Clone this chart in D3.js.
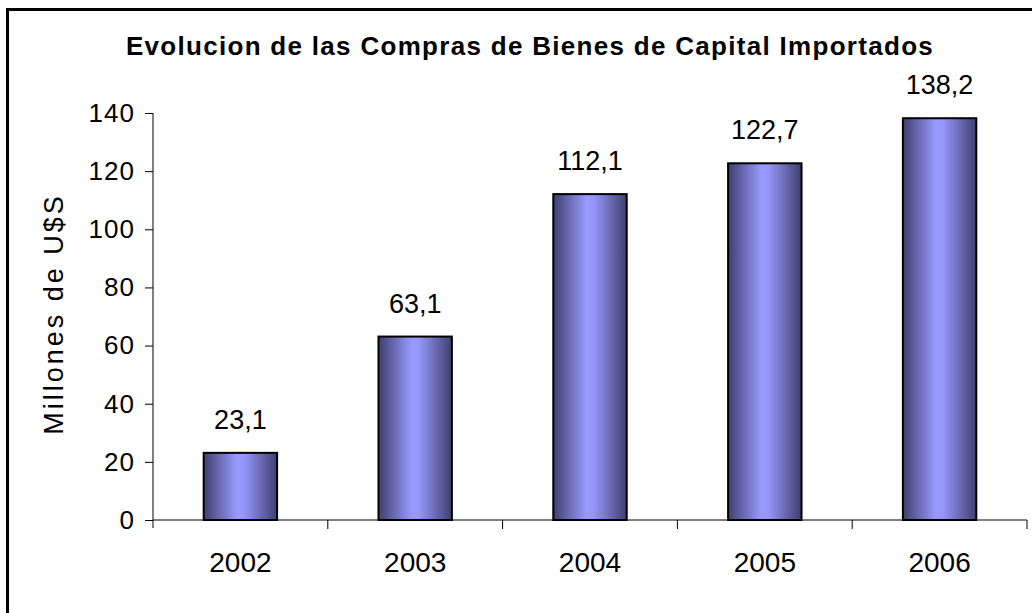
<!DOCTYPE html>
<html>
<head>
<meta charset="utf-8">
<script src="https://cdn.jsdelivr.net/npm/d3@7"></script>
<style>
    body { margin: 0; background: #fff; }
    svg text { font-family: Arial, "Liberation Sans", sans-serif; fill: #000; }
</style>
</head>
<body>
<div id="chart"></div>
<script>
// data
const years = ["2002", "2003", "2004", "2005", "2006"];
const values = [23.1, 63.1, 112.1, 122.7, 138.2];
const valueLabels = ["23,1", "63,1", "112,1", "122,7", "138,2"];
const yTicks = [0, 20, 40, 60, 80, 100, 120, 140];

window.onload = function () {
    drawChart();
};

function drawChart() {
    let width = 1032,
        height = 613;

    let svg = d3.select("#chart")
        .append("svg")
        .attr("width", width)
        .attr("height", height);

    // gradient for the bars (dark edges, light middle)
    let grad = svg.append("defs")
        .append("linearGradient")
        .attr("id", "barGrad")
        .attr("x1", "0%").attr("x2", "100%")
        .attr("y1", "0%").attr("y2", "0%");
    grad.append("stop").attr("offset", "0%").attr("stop-color", "#3f3f6e");
    grad.append("stop").attr("offset", "45%").attr("stop-color", "#9999ff");
    grad.append("stop").attr("offset", "55%").attr("stop-color", "#9696fa");
    grad.append("stop").attr("offset", "100%").attr("stop-color", "#3f3f6e");

    // outer frame
    svg.append("rect")
        .attr("x", 7.5)
        .attr("y", 9.5)
        .attr("width", 1100)
        .attr("height", 700)
        .attr("fill", "none")
        .attr("stroke", "#000")
        .attr("stroke-width", 3);

    let x = d3.scaleBand()
        .domain(years)
        .range([153, 1027]);

    let y = d3.scaleLinear()
        .domain([0, 140])
        .range([520, 113]);

    // Y axis
    let yAxis = svg.append("g")
        .attr("transform", "translate(153,0)")
        .call(d3.axisLeft(y).tickValues(yTicks).tickSize(8).tickPadding(10));
    yAxis.select(".domain").attr("d", "M0," + y(140) + "V" + (y(0) + 8));
    yAxis.selectAll(".tick line").attr("stroke", "#000");
    yAxis.selectAll("text")
        .style("font-size", "26px")
        .style("letter-spacing", "1px")
        .attr("font-family", null);

    // X axis with ticks between categories
    let xAxis = svg.append("g")
        .attr("transform", "translate(0," + y(0) + ")")
        .call(d3.axisBottom(x).tickSize(0).tickPadding(32));
    xAxis.select(".domain").attr("d", "M153,0H1027V9");
    xAxis.selectAll("text")
        .style("font-size", "28px")
        .attr("font-family", null);
    xAxis.selectAll(".boundary")
        .data(years.slice(1))
        .enter()
        .append("line")
        .attr("class", "boundary")
        .attr("x1", function (d) { return x(d); })
        .attr("x2", function (d) { return x(d); })
        .attr("y1", 0)
        .attr("y2", 9)
        .attr("stroke", "#000");

    // Bars
    let barW = x.bandwidth() * 0.42;
    svg.selectAll("myRect")
        .data(values)
        .enter()
        .append("rect")
        .attr("x", function (d, i) { return x(years[i]) + (x.bandwidth() - barW) / 2; })
        .attr("y", function (d) { return y(d); })
        .attr("width", barW)
        .attr("height", function (d) { return y(0) - y(d); })
        .attr("fill", "url(#barGrad)")
        .attr("stroke", "#000")
        .attr("stroke-width", 2);

    // value labels
    svg.selectAll("valLabels")
        .data(values)
        .enter()
        .append("text")
        .attr("x", function (d, i) { return x(years[i]) + x.bandwidth() / 2; })
        .attr("y", function (d) { return y(d) - 24; })
        .attr("text-anchor", "middle")
        .style("font-size", "27px")
        .text(function (d, i) { return valueLabels[i]; });

    // title
    svg.append("text")
        .attr("x", 530)
        .attr("y", 55)
        .attr("text-anchor", "middle")
        .style("font-size", "26px")
        .style("font-weight", "bold")
        .style("letter-spacing", "1.3px")
        .text("Evolucion de las Compras de Bienes de Capital Importados");

    // y axis title
    svg.append("text")
        .attr("transform", "translate(63,314) rotate(-90)")
        .attr("text-anchor", "middle")
        .style("font-size", "27px")
        .style("letter-spacing", "3px")
        .text("Millones de U$S");
}
</script>
</body>
</html>
